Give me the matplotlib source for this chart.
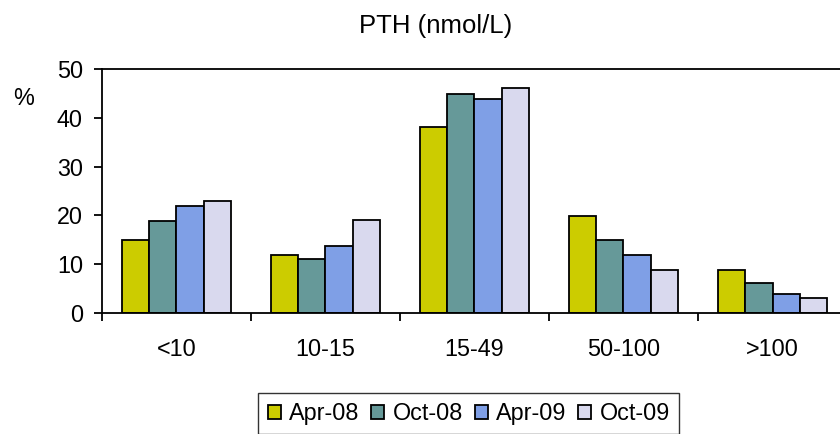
import matplotlib
matplotlib.use("Agg")
import matplotlib.pyplot as plt
import numpy as np

plt.rcParams['font.family'] = ['Liberation Sans', 'DejaVu Sans']

categories = ["<10", "10-15", "15-49", "50-100", ">100"]
series_names = ["Apr-08", "Oct-08", "Apr-09", "Oct-09"]
apr08 = [15, 11.8, 38.1, 19.9, 8.8]
oct08 = [18.8, 11, 45, 15, 6]
apr09 = [21.9, 13.8, 43.8, 11.8, 3.8]
oct09 = [23, 19, 46.1, 8.8, 3]
colors = ["#CCCC00", "#669999", "#7F9FE6", "#D9D9EE"]

fs = 16.8
fig = plt.figure(figsize=(8.4, 4.34), dpi=100)
ax = fig.add_axes([0.1211, 0.2795, 0.8873, 0.5608])

x = np.arange(len(categories))
w = 0.183
all_series = [apr08, oct08, apr09, oct09]
for i, vals in enumerate(all_series):
    ax.bar(x + (i - 1.5) * w, vals, width=w, color=colors[i],
           edgecolor="black", linewidth=1.3, label=series_names[i])

ax.set_xlim(-0.5, len(categories) - 0.5)
ax.set_ylim(0, 50)
ax.set_yticks([0, 10, 20, 30, 40, 50])
ax.set_xticks(x)
ax.set_xticklabels(categories)
ax.set_xticks(np.arange(-0.5, len(categories)), minor=True)

for s in ax.spines.values():
    s.set_linewidth(1.3)
ax.tick_params(axis="y", direction="out", length=5.5, width=1.3, pad=8, labelsize=fs)
ax.tick_params(axis="x", which="major", length=0, pad=18.5, labelsize=fs)
ax.tick_params(axis="x", which="minor", direction="out", length=6, width=1.3)

fig.text(436 / 840, 1 - 33 / 434, "PTH (nmol/L)", ha="center", va="baseline", fontsize=18.5)
fig.text(24 / 840, 1 - 105 / 434, "%", ha="center", va="baseline", fontsize=fs)

leg = fig.legend(loc="upper left", bbox_to_anchor=(258.3 / 840, 1 - 392.7 / 434),
                 ncol=4, fontsize=fs, frameon=True, fancybox=False,
                 handlelength=0.57, handleheight=0.57, handletextpad=0.35,
                 columnspacing=0.5, borderpad=0.4, borderaxespad=0)
leg.get_frame().set_edgecolor("black")
leg.get_frame().set_linewidth(1.0)
for h in leg.legend_handles:
    h.set_linewidth(1.3)

fig.savefig("out.png", dpi=100)
